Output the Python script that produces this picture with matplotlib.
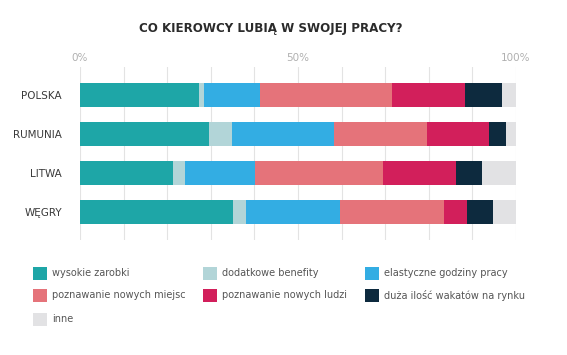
import matplotlib
matplotlib.use("Agg")
import matplotlib.pyplot as plt
from matplotlib.patches import Rectangle
import numpy as np

plt.rcParams['font.family'] = ['DejaVu Sans']

categories = ["POLSKA", "RUMUNIA", "LITWA", "WĘGRY"]
series_names = ["wysokie zarobki", "dodatkowe benefity", "elastyczne godziny pracy",
                "poznawanie nowych miejsc", "poznawanie nowych ludzi",
                "duża ilość wakatów na rynku", "inne"]
wysokie_zarobki = [27.3, 29.7, 21.3, 35.0]
dodatkowe_benefity = [1.1, 5.2, 2.8, 3.0]
elastyczne_godziny = [12.9, 23.4, 16.0, 21.7]
nowe_miejsca = [30.2, 21.4, 29.5, 23.8]
nowi_ludzie = [16.8, 14.0, 16.6, 5.2]
wakaty = [8.6, 3.9, 6.1, 6.0]
inne = [3.1, 2.4, 7.7, 5.3]
series = [wysokie_zarobki, dodatkowe_benefity, elastyczne_godziny, nowe_miejsca,
          nowi_ludzie, wakaty, inne]
colors = ["#1ea6a7", "#b2d5d8", "#33ade3", "#e5737a", "#d21f5b", "#0d2a3e", "#e2e2e4"]
tick_vals = [0, 50, 100]
tick_labels = ["0%", "50%", "100%"]

W, H = 567, 355
fig = plt.figure(figsize=(W / 100, H / 100), dpi=100)
ax = fig.add_axes([80 / W, 1 - 240 / H, 436 / W, 173 / H])

y = np.arange(len(categories))
left = np.zeros(len(categories))
for vals, col in zip(series, colors):
    ax.barh(y, vals, left=left, height=0.617, color=col, zorder=3, linewidth=0)
    left += np.array(vals)

ax.set_xlim(0, 100)
ax.set_ylim(3.725, -0.725)
for g in range(0, 101, 10):
    ax.axvline(g, color="#e3e3e3", lw=0.8, zorder=1)
for s in ax.spines.values():
    s.set_visible(False)
ax.set_xticks([])
ax.set_yticks(y)
ax.set_yticklabels(categories, fontsize=7.5, color="#3a3a3a")
ax.tick_params(axis="y", length=0, pad=13)
for v, lab in zip(tick_vals, tick_labels):
    ax.text(v, -0.725 - 0.23, lab, ha="center", va="center", fontsize=7.5,
            color="#b0b0b0", transform=ax.transData, clip_on=False)

fig.text(271 / W, 1 - 28.5 / H, "CO KIEROWCY LUBIĄ W SWOJEJ PRACY?", ha="center",
         va="center", fontsize=8.6, fontweight="bold", color="#2b2b2b")

# legend
col_x = [32.7, 202.7, 365]
row_y = [273, 295.5, 319]
for i, (name, col) in enumerate(zip(series_names, colors)):
    r, c = divmod(i, 3)
    x0 = col_x[c]
    yc = row_y[r]
    fig.patches.append(Rectangle((x0 / W, 1 - (yc + 6.5) / H), 14 / W, 13 / H,
                                 transform=fig.transFigure, facecolor=col,
                                 edgecolor="none"))
    fig.text((x0 + 19) / W, 1 - yc / H, name, ha="left", va="center",
             fontsize=7, color="#555555")

fig.savefig("out.png", dpi=100)
